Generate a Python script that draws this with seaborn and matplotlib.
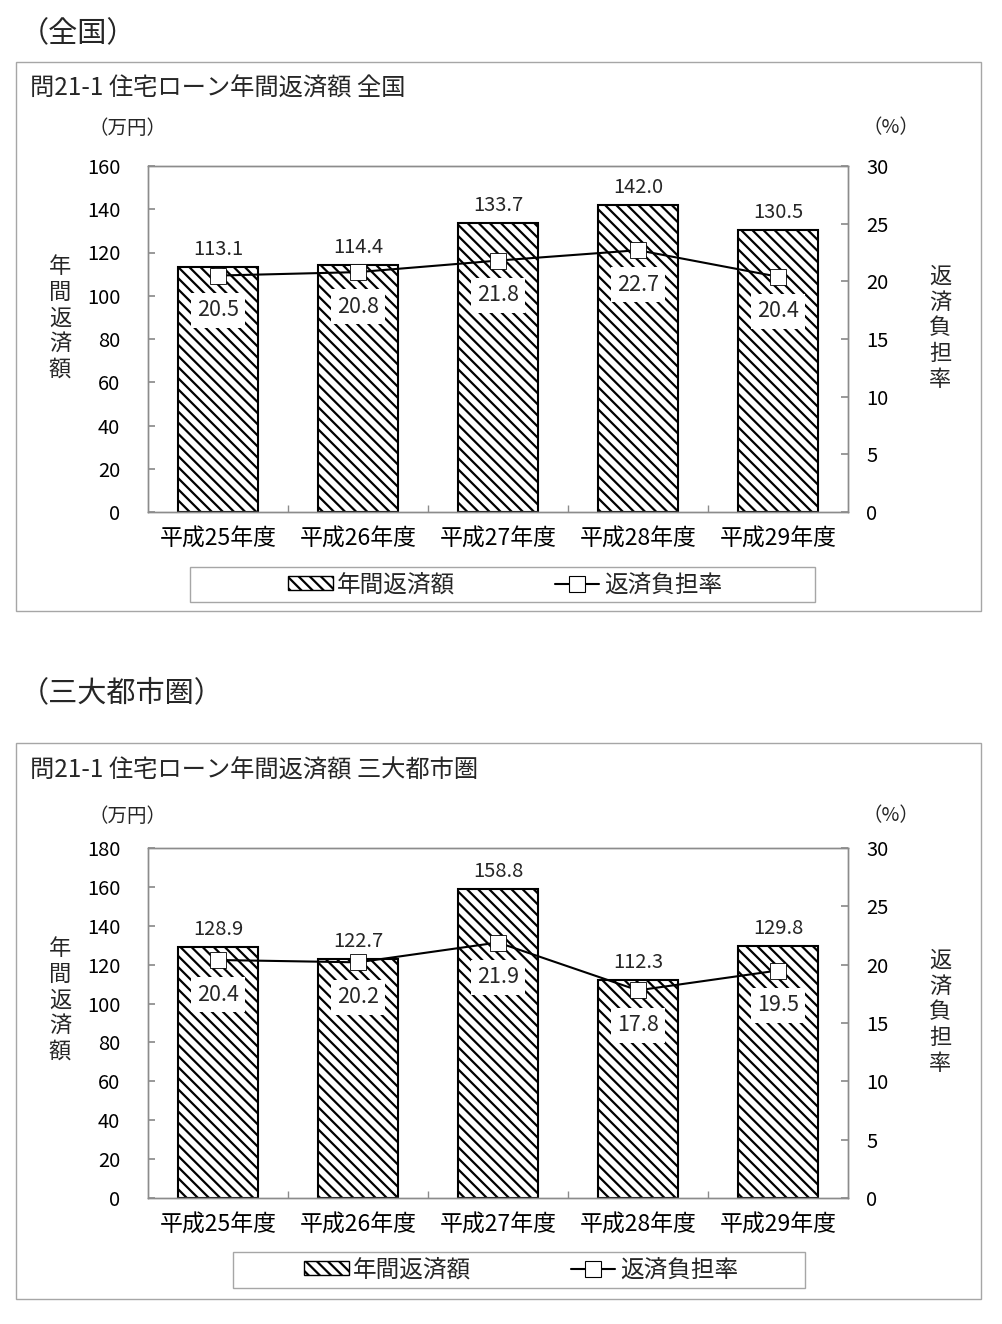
import matplotlib
matplotlib.use("Agg")
import matplotlib.pyplot as plt
import seaborn as sns
import numpy as np
import pandas as pd
from matplotlib.patches import Rectangle, Patch
from matplotlib.lines import Line2D
from matplotlib.ticker import MultipleLocator, FixedLocator

# ---------------- data ----------------
years = ["平成25年度", "平成26年度", "平成27年度", "平成28年度", "平成29年度"]
national_amount = [113.1, 114.4, 133.7, 142.0, 130.5]
national_rate = [20.5, 20.8, 21.8, 22.7, 20.4]
metro_amount = [128.9, 122.7, 158.8, 112.3, 129.8]
metro_rate = [20.4, 20.2, 21.9, 17.8, 19.5]

section_titles = ["（全国）", "（三大都市圏）"]
chart_titles = ["問21-1 住宅ローン年間返済額 全国", "問21-1 住宅ローン年間返済額 三大都市圏"]
bar_name = "年間返済額"
line_name = "返済負担率"
left_unit = "（万円）"
right_unit = "（%）"

sns.set_theme(style="white")
plt.rcParams["font.family"] = ["Noto Sans CJK JP", "DejaVu Sans"]
plt.rcParams["hatch.linewidth"] = 1.6
plt.rcParams["hatch.color"] = "black"

HATCH = "\\\\\\"

W, H = 1002, 1324
fig = plt.figure(figsize=(W / 100, H / 100), dpi=100)
fig.patch.set_facecolor("white")

GREY = "#8c8c8c"


def fx(px):
    return px / W


def fy(py):
    return 1 - py / H


def frame(x0, y0, x1, y1, color="#a6a6a6"):
    fig.patches.append(Rectangle((fx(x0), fy(y1)), fx(x1) - fx(x0), fy(y0) - fy(y1),
                                 transform=fig.transFigure, fill=False,
                                 edgecolor=color, linewidth=1.0))


def panel(amounts, rates, ymax, ax_box, box, legend_box, legend_center,
          sec_title, sec_y, title, title_y, unit_y, lab_y_left, lab_y_right):
    x0, y0, x1, y1 = ax_box
    ax = fig.add_axes([fx(x0), fy(y1), fx(x1) - fx(x0), fy(y0) - fy(y1)])
    df = pd.DataFrame({"year": years, "amount": amounts, "rate": rates})
    sns.barplot(data=df, x="year", y="amount", ax=ax, color="white",
                edgecolor="black", linewidth=1.5, width=0.571,
                hatch=HATCH, saturation=1)
    for p in ax.patches:
        p.set_hatch(HATCH)
    ax.bar_label(ax.containers[0], labels=[f"{v:.1f}" for v in amounts],
                 padding=5, fontsize=14.5)
    ax.set_ylim(0, ymax)
    ax.set_xlim(-0.5, 4.5)
    ax.yaxis.set_major_locator(MultipleLocator(20))
    ax.set_xlabel("")
    ax.set_ylabel("")
    for s in ax.spines.values():
        s.set_color(GREY)
        s.set_linewidth(1.0)
        s.set_visible(True)
    ax.tick_params(axis="y", direction="in", length=5, color=GREY, pad=20,
                   labelsize=14.5, left=True)
    ax.tick_params(axis="x", which="major", length=0, pad=11, labelsize=16.5)
    ax.xaxis.set_minor_locator(FixedLocator([0.5, 1.5, 2.5, 3.5]))
    ax.tick_params(axis="x", which="minor", direction="in", length=5,
                   color=GREY, bottom=True)
    for lab in ax.get_xticklabels() + ax.get_yticklabels():
        lab.set_color("black")

    ax2 = ax.twinx()
    sns.lineplot(x=np.arange(len(years)), y=rates, ax=ax2, color="black",
                 linewidth=1.5, marker="s", markersize=11,
                 markerfacecolor="white", markeredgecolor="black",
                 markeredgewidth=0.6)
    ax2.set_ylim(0, 30)
    ax2.yaxis.set_major_locator(MultipleLocator(5))
    ax2.tick_params(axis="y", direction="in", length=5, color=GREY, pad=13,
                    labelsize=14.5, right=True)
    for lab in ax2.get_yticklabels():
        lab.set_color("black")
    for s in ax2.spines.values():
        s.set_color(GREY)
        s.set_linewidth(1.0)
    ax2.set_ylabel("")
    for i, r in enumerate(rates):
        ax2.annotate(f"{r:.1f}", (i, r), xytext=(0, -25), textcoords="offset points",
                     ha="center", va="center", fontsize=15.5,
                     bbox=dict(boxstyle="square,pad=0.3", facecolor="white",
                               edgecolor="none"))

    # frames and texts
    frame(*box)
    fig.text(fx(20), fy(sec_y), sec_title, fontsize=21, va="center", ha="left")
    fig.text(fx(30), fy(title_y), title, fontsize=17.5, va="center", ha="left")
    fig.text(fx(88), fy(unit_y), left_unit, fontsize=14, va="center", ha="left")
    fig.text(fx(862), fy(unit_y), right_unit, fontsize=14, va="center", ha="left")
    fig.text(fx(60), fy(lab_y_left), "\n".join(bar_name), fontsize=16,
             va="center", ha="center", linespacing=1.15)
    fig.text(fx(940), fy(lab_y_right), "\n".join(line_name), fontsize=16,
             va="center", ha="center", linespacing=1.15)

    frame(*legend_box)
    handles = [Patch(facecolor="white", edgecolor="black", hatch=HATCH),
               Line2D([0], [0], color="black", linewidth=1.5, marker="s",
                      markersize=11, markerfacecolor="white",
                      markeredgecolor="black", markeredgewidth=0.8)]
    fig.legend(handles, [bar_name, line_name], loc="center",
               bbox_to_anchor=(fx(legend_center[0]), fy(legend_center[1])),
               ncol=2, frameon=False, fontsize=17, handlelength=1.9,
               handleheight=0.55, handletextpad=0.2, columnspacing=4.2)


panel(national_amount, national_rate, 160,
      ax_box=(148, 166, 848, 512), box=(16, 62, 981, 611),
      legend_box=(190, 567, 815, 602), legend_center=(505, 585),
      sec_title=section_titles[0], sec_y=34, title=chart_titles[0], title_y=89,
      unit_y=128, lab_y_left=318, lab_y_right=328)

panel(metro_amount, metro_rate, 180,
      ax_box=(148, 848, 848, 1198), box=(16, 743, 981, 1299),
      legend_box=(233, 1252, 805, 1288), legend_center=(521, 1270),
      sec_title=section_titles[1], sec_y=693, title=chart_titles[1], title_y=771,
      unit_y=816, lab_y_left=1000, lab_y_right=1012)

fig.savefig("out.png", dpi=100, facecolor="white")
